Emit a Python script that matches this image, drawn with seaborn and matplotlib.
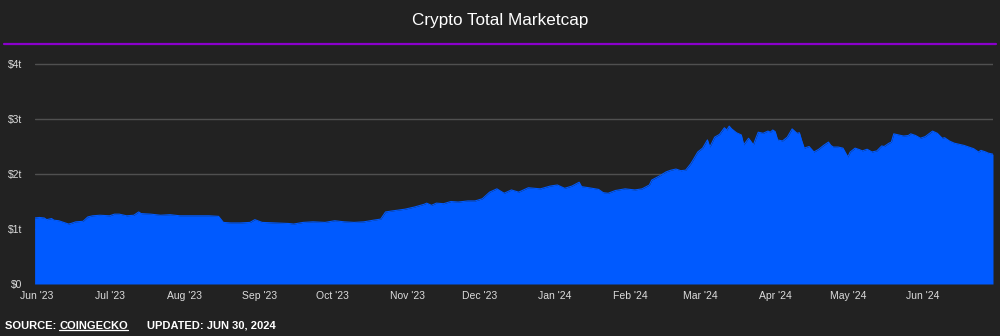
import matplotlib
matplotlib.use("Agg")
import matplotlib.pyplot as plt
import matplotlib.dates as mdates
import seaborn as sns
import pandas as pd

# ---- data, trillions of USD ----
dates = [
    "2023-05-31", "2023-06-02", "2023-06-04", "2023-06-05", "2023-06-07", "2023-06-08",
    "2023-06-10", "2023-06-12", "2023-06-14", "2023-06-15", "2023-06-17", "2023-06-20",
    "2023-06-22", "2023-06-24", "2023-06-27", "2023-07-01", "2023-07-03", "2023-07-05",
    "2023-07-08", "2023-07-11", "2023-07-13", "2023-07-14", "2023-07-18", "2023-07-22",
    "2023-07-26", "2023-07-30", "2023-08-03", "2023-08-07", "2023-08-11", "2023-08-15",
    "2023-08-17", "2023-08-20", "2023-08-24", "2023-08-28", "2023-08-30", "2023-09-02",
    "2023-09-07", "2023-09-13", "2023-09-15", "2023-09-19", "2023-09-23", "2023-09-28",
    "2023-10-02", "2023-10-06", "2023-10-10", "2023-10-14", "2023-10-18", "2023-10-21",
    "2023-10-23", "2023-10-26", "2023-10-31", "2023-11-04", "2023-11-08", "2023-11-09",
    "2023-11-11", "2023-11-13", "2023-11-16", "2023-11-19", "2023-11-22", "2023-11-26",
    "2023-11-29", "2023-12-02", "2023-12-05", "2023-12-08", "2023-12-11", "2023-12-14",
    "2023-12-17", "2023-12-21", "2023-12-26", "2023-12-30", "2024-01-02", "2024-01-05",
    "2024-01-08", "2024-01-11", "2024-01-12", "2024-01-15", "2024-01-19", "2024-01-21",
    "2024-01-23", "2024-01-26", "2024-01-30", "2024-02-03", "2024-02-06", "2024-02-09",
    "2024-02-10", "2024-02-13", "2024-02-16", "2024-02-18", "2024-02-20", "2024-02-22",
    "2024-02-24", "2024-02-26", "2024-02-27", "2024-02-29", "2024-03-02", "2024-03-04",
    "2024-03-05", "2024-03-07", "2024-03-09", "2024-03-11", "2024-03-12", "2024-03-13",
    "2024-03-14", "2024-03-16", "2024-03-18", "2024-03-19", "2024-03-21", "2024-03-23",
    "2024-03-24", "2024-03-25", "2024-03-27", "2024-03-29", "2024-03-30", "2024-03-31",
    "2024-04-01", "2024-04-02", "2024-04-04", "2024-04-06", "2024-04-08", "2024-04-10",
    "2024-04-11", "2024-04-12", "2024-04-13", "2024-04-15", "2024-04-17", "2024-04-19",
    "2024-04-21", "2024-04-23", "2024-04-24", "2024-04-25", "2024-04-27", "2024-04-29",
    "2024-05-01", "2024-05-02", "2024-05-04", "2024-05-06", "2024-05-07", "2024-05-09",
    "2024-05-11", "2024-05-13", "2024-05-15", "2024-05-16", "2024-05-18", "2024-05-19",
    "2024-05-20", "2024-05-22", "2024-05-24", "2024-05-26", "2024-05-27", "2024-05-29",
    "2024-05-31", "2024-06-02", "2024-06-05", "2024-06-07", "2024-06-09", "2024-06-10",
    "2024-06-12", "2024-06-14", "2024-06-16", "2024-06-18", "2024-06-20", "2024-06-22",
    "2024-06-24", "2024-06-25", "2024-06-27", "2024-06-28", "2024-06-30",
]
marketcap = [
    1.20, 1.21, 1.20, 1.17, 1.19, 1.16,
    1.15, 1.12, 1.09, 1.10, 1.13, 1.14,
    1.22, 1.24, 1.25, 1.24, 1.27, 1.27,
    1.24, 1.25, 1.31, 1.28, 1.27, 1.25,
    1.26, 1.24, 1.24, 1.24, 1.24, 1.23,
    1.12, 1.11, 1.11, 1.12, 1.17, 1.12,
    1.11, 1.10, 1.09, 1.12, 1.13, 1.12,
    1.15, 1.13, 1.12, 1.13, 1.16, 1.18,
    1.31, 1.33, 1.36, 1.40, 1.45, 1.47,
    1.43, 1.47, 1.46, 1.50, 1.49, 1.51,
    1.51, 1.55, 1.67, 1.73, 1.65, 1.71,
    1.67, 1.75, 1.73, 1.78, 1.80, 1.74,
    1.78, 1.85, 1.77, 1.75, 1.72, 1.66,
    1.65, 1.70, 1.73, 1.71, 1.73, 1.80,
    1.89, 1.96, 2.04, 2.07, 2.09, 2.06,
    2.07, 2.18, 2.25, 2.40, 2.47, 2.62,
    2.49, 2.67, 2.72, 2.84, 2.80, 2.87,
    2.82, 2.75, 2.71, 2.53, 2.65, 2.53,
    2.65, 2.76, 2.74, 2.78, 2.76, 2.80,
    2.77, 2.62, 2.60, 2.67, 2.82, 2.74,
    2.75, 2.60, 2.47, 2.50, 2.40, 2.45,
    2.52, 2.58, 2.52, 2.49, 2.49, 2.47,
    2.31, 2.40, 2.47, 2.44, 2.42, 2.45,
    2.40, 2.42, 2.51, 2.50, 2.56, 2.58,
    2.73, 2.71, 2.69, 2.70, 2.73, 2.70,
    2.65, 2.68, 2.78, 2.74, 2.65, 2.66,
    2.60, 2.56, 2.54, 2.52, 2.49, 2.46,
    2.40, 2.43, 2.40, 2.38, 2.36,
]
y_ticks = [0, 1, 2, 3, 4]
y_tick_labels = ["$0", "$1t", "$2t", "$3t", "$4t"]
title = "Crypto Total Marketcap"
source_label = "SOURCE: "
source_name = "COINGECKO"
updated_label = "UPDATED: JUN 30, 2024"

df = pd.DataFrame({"date": pd.to_datetime(dates), "marketcap": marketcap})

# ---- styling ----
BG = "#222222"
BLUE = "#005aff"
sns.set_theme(style="dark")
plt.rcParams["font.family"] = ["Liberation Sans", "DejaVu Sans"]

fig = plt.figure(figsize=(10, 3.36), dpi=100, facecolor=BG)
W, H = 1000, 336
ax_left, ax_right, ax_bottom, ax_top = 35, 993, 284, 58.5
ax = fig.add_axes([ax_left / W, 1 - ax_bottom / H,
                   (ax_right - ax_left) / W, (ax_bottom - ax_top) / H])
ax.set_facecolor(BG)

ax.fill_between(df["date"], df["marketcap"], 0, color=BLUE, lw=0, zorder=3)
sns.lineplot(data=df, x="date", y="marketcap", ax=ax, color=BLUE, lw=0.8, zorder=4)

ax.set_ylim(0, 4.1)
ax.set_xlim(pd.Timestamp("2023-05-31 04:00"), pd.Timestamp("2024-06-30 00:00"))
ax.set_yticks(y_ticks)
ax.set_yticklabels(y_tick_labels)
ax.xaxis.set_major_locator(mdates.MonthLocator())
ax.xaxis.set_major_formatter(mdates.DateFormatter("%b '%y"))
ax.set_xlabel("")
ax.set_ylabel("")

ax.grid(axis="y", color="#505050", lw=1.0, zorder=1)
ax.grid(axis="x", visible=False)
for s in ax.spines.values():
    s.set_visible(False)
ax.tick_params(axis="both", length=0, colors="#dcdcdc", labelsize=7.5)
ax.tick_params(axis="x", pad=5.0)
ax.tick_params(axis="y", pad=9.0)
for lbl in ax.get_yticklabels():
    lbl.set_ha("right")

# ---- title and purple rule ----
fig.text(0.5, 1 - 20 / H, title, ha="center", va="center", color="white", fontsize=12.3)
fig.add_artist(plt.Line2D([4 / W, 996 / W], [1 - 44 / H, 1 - 44 / H],
                          color="#8a00cc", lw=1.6))

# ---- footer ----
fy = 1 - 326 / H
t1 = fig.text(5 / W, fy, source_label, ha="left", va="center", color="white",
              fontsize=8, fontweight="bold")
fig.canvas.draw()
r = fig.canvas.get_renderer()
bb1 = t1.get_window_extent(r)
t2 = fig.text(bb1.x1 / W, fy, source_name, ha="left", va="center", color="white",
              fontsize=8, fontweight="bold")
fig.canvas.draw()
bb2 = t2.get_window_extent(r)
uy = (bb2.y0 + 1.5) / H
fig.add_artist(plt.Line2D([bb2.x0 / W, bb2.x1 / W], [uy, uy], color="white", lw=0.9))
fig.text(147 / W, fy, updated_label, ha="left", va="center", color="white",
         fontsize=8, fontweight="bold")

fig.savefig("out.png", dpi=100, facecolor=BG)
